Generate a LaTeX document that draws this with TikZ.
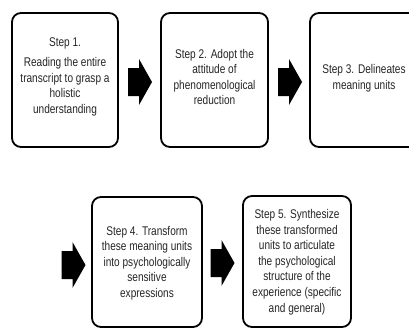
\documentclass[tikz,border=0pt]{standalone}
\usepackage{fontspec}
\setmainfont{Liberation Sans}[FakeStretch=0.8]
\begin{document}
\begin{tikzpicture}[x=1pt,y=-1pt,
  stepbox/.style={draw=black, line width=1.8pt, rounded corners=9pt},
  steptext/.style={align=center, text=black!85, font=\fontsize{12.6}{15.6}\selectfont, inner sep=0pt},
  barrow/.pic={\fill[black] (-12,-14) -- (-1,-14) -- (-1,-23) -- (12,0) -- (-1,23) -- (-1,14) -- (-12,14) -- cycle;}
]
\clip (0,0) rectangle (409,329);
\fill[white] (0,0) rectangle (409,329);
% top row
\draw[stepbox] (12,13) rectangle (118,147);
\node[steptext] (t1) at (65,77) {Step 1.\\[4pt]Reading the entire\\transcript to grasp a\\holistic\\understanding};
\draw[stepbox] (161,13) rectangle (268,147);
\node[steptext] (t2) at (214.5,77) {Step 2. Adopt the\\attitude of\\phenomenological\\reduction};
\draw[stepbox] (310,13) rectangle (418,147);
\node[steptext] (t3) at (364,78) {Step 3. Delineates\\meaning units};
\pic at (140,82) {barrow};
\pic at (290,82) {barrow};
% bottom row
\draw[stepbox] (92,197) rectangle (202,327);
\node[steptext] (t4) at (147,263) {Step 4. Transform\\these meaning units\\into psychologically\\sensitive\\expressions};
\draw[stepbox] (243,196) rectangle (351,327);
\node[steptext] (t5) at (297,262) {Step 5. Synthesize\\these transformed\\units to articulate\\the psychological\\structure of the\\experience (specific\\and general)};
\pic at (73.5,265) {barrow};
\pic at (222.5,263) {barrow};
\end{tikzpicture}
\end{document}
